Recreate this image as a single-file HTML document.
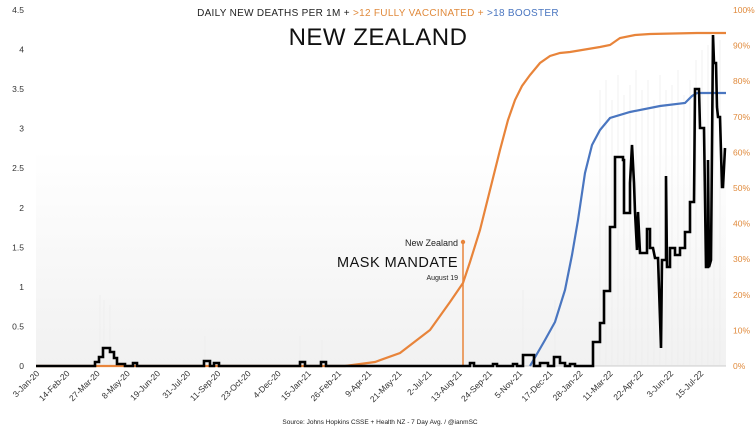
<!DOCTYPE html>
<html><head><style>
html,body{margin:0;padding:0;background:#fff;}
svg{display:block;font-family:"Liberation Sans",sans-serif;}
</style></head><body>
<svg width="756" height="426" viewBox="0 0 756 426">
<defs>
<linearGradient id="bg" x1="0" y1="0" x2="0" y2="1">
<stop offset="0" stop-color="#ffffff"/><stop offset="1" stop-color="#f1f1f1"/>
</linearGradient>
</defs>
<rect x="0" y="0" width="756" height="426" fill="#fff"/>
<rect x="36" y="150" width="690" height="216" fill="url(#bg)"/>
<g stroke="#ececec" stroke-width="0.7">
<line x1="100" y1="366" x2="100" y2="295"/><line x1="104" y1="366" x2="104" y2="300"/><line x1="110" y1="366" x2="110" y2="305"/>
<line x1="205" y1="366" x2="205" y2="336"/><line x1="300" y1="366" x2="300" y2="336"/><line x1="322" y1="366" x2="322" y2="340"/>
<line x1="523" y1="366" x2="523" y2="290"/><line x1="555" y1="366" x2="555" y2="300"/>
<line x1="600" y1="366" x2="600" y2="90"/><line x1="606" y1="366" x2="606" y2="80"/><line x1="612" y1="366" x2="612" y2="100"/>
<line x1="618" y1="366" x2="618" y2="75"/><line x1="624" y1="366" x2="624" y2="95"/><line x1="630" y1="366" x2="630" y2="85"/>
<line x1="636" y1="366" x2="636" y2="70"/><line x1="642" y1="366" x2="642" y2="90"/><line x1="648" y1="366" x2="648" y2="80"/>
<line x1="654" y1="366" x2="654" y2="100"/><line x1="660" y1="366" x2="660" y2="75"/><line x1="666" y1="366" x2="666" y2="90"/>
<line x1="672" y1="366" x2="672" y2="85"/><line x1="678" y1="366" x2="678" y2="70"/><line x1="684" y1="366" x2="684" y2="95"/>
<line x1="690" y1="366" x2="690" y2="80"/><line x1="696" y1="366" x2="696" y2="60"/><line x1="702" y1="366" x2="702" y2="50"/>
<line x1="708" y1="366" x2="708" y2="45"/><line x1="714" y1="366" x2="714" y2="40"/><line x1="720" y1="366" x2="720" y2="40"/>
</g>
<line x1="36" y1="366" x2="726" y2="366" stroke="#ccc" stroke-width="1"/>
<g font-size="8.5" fill="#333" text-anchor="end">
<text x="24" y="369">0</text><text x="24" y="329.4">0.5</text><text x="24" y="289.9">1</text><text x="24" y="250.3">1.5</text><text x="24" y="210.8">2</text><text x="24" y="171.2">2.5</text><text x="24" y="131.7">3</text><text x="24" y="92.1">3.5</text><text x="24" y="52.5">4</text><text x="24" y="13">4.5</text>
</g>
<g font-size="8.5" fill="#e08a3c">
<text x="733" y="369">0%</text><text x="733" y="333.4">10%</text><text x="733" y="297.8">20%</text><text x="733" y="262.2">30%</text><text x="733" y="226.6">40%</text><text x="733" y="191">50%</text><text x="733" y="155.4">60%</text><text x="733" y="119.8">70%</text><text x="733" y="84.2">80%</text><text x="733" y="48.6">90%</text><text x="733" y="13">100%</text>
</g>
<g font-size="8.5" fill="#333" text-anchor="end">
<text transform="translate(40,374) rotate(-45)">3-Jan-20</text>
<text transform="translate(70.2,374) rotate(-45)">14-Feb-20</text>
<text transform="translate(100.4,374) rotate(-45)">27-Mar-20</text>
<text transform="translate(130.5,374) rotate(-45)">8-May-20</text>
<text transform="translate(160.7,374) rotate(-45)">19-Jun-20</text>
<text transform="translate(190.9,374) rotate(-45)">31-Jul-20</text>
<text transform="translate(221.1,374) rotate(-45)">11-Sep-20</text>
<text transform="translate(251.3,374) rotate(-45)">23-Oct-20</text>
<text transform="translate(281.4,374) rotate(-45)">4-Dec-20</text>
<text transform="translate(311.6,374) rotate(-45)">15-Jan-21</text>
<text transform="translate(341.8,374) rotate(-45)">26-Feb-21</text>
<text transform="translate(372,374) rotate(-45)">9-Apr-21</text>
<text transform="translate(402.2,374) rotate(-45)">21-May-21</text>
<text transform="translate(432.3,374) rotate(-45)">2-Jul-21</text>
<text transform="translate(462.5,374) rotate(-45)">13-Aug-21</text>
<text transform="translate(492.7,374) rotate(-45)">24-Sep-21</text>
<text transform="translate(522.9,374) rotate(-45)">5-Nov-21</text>
<text transform="translate(553.1,374) rotate(-45)">17-Dec-21</text>
<text transform="translate(583.2,374) rotate(-45)">28-Jan-22</text>
<text transform="translate(613.4,374) rotate(-45)">11-Mar-22</text>
<text transform="translate(643.6,374) rotate(-45)">22-Apr-22</text>
<text transform="translate(673.8,374) rotate(-45)">3-Jun-22</text>
<text transform="translate(704,374) rotate(-45)">15-Jul-22</text>
</g>
<polyline fill="none" stroke="#e8843a" stroke-width="2.2" points="36,366 345,366 375,362 400,353 430,330 450,302 463,283 470,262 480,230 490,190 500,150 508,120 515,100 522,86 530,75 540,63 550,56 560,53 570,52 600,47 610,45 620,38 635,35 650,34 697,33 726,33"/>
<polyline fill="none" stroke="#4a76c0" stroke-width="2.2" points="530,366 545,340 555,322 565,290 572,255 578,220 585,173 592,145 600,130 610,118 630,112 660,106 685,103 692,96 697,93 726,93"/>
<line x1="463" y1="242" x2="463" y2="366" stroke="#e8843a" stroke-width="1.5"/>
<circle cx="463" cy="242" r="2.2" fill="#e8843a"/>
<text x="458" y="246" font-size="9" fill="#222" text-anchor="end">New Zealand</text>
<text x="458" y="267" font-size="14.5" fill="#111" text-anchor="end" letter-spacing="0.5">MASK MANDATE</text>
<text x="458" y="280" font-size="7" fill="#222" text-anchor="end">August 19</text>
<polyline fill="none" stroke="#000" stroke-width="2.6" points="36,366 95,366 95,362 99,362 99,357 103,357 103,348 110,348 110,352 114,352 114,358 117,358 117,364 125,364 125,366 133,366 133,363 137,363 137,366 204,366 204,361 210,361 210,366 214,366 214,363 219,363 219,366 300,366 300,362 305,362 305,366 321,366 321,362 326,362 326,366 470,366 470,363 474,363 474,366 493,366 493,364 497,364 497,366 513,366 513,364 517,364 517,366 523,366 523,355 534,355 534,366 540,366 540,363 548,363 548,366 554,366 554,357 560,357 560,363 565,363 565,366 570,366 570,364 575,364 575,366 593,366 593,342 600,342 600,323 604,323 604,291 610,291 610,227 615,227 615,157 623,157 623,160 624,160 624,213 630,213 630,183 632,145 634,183 635,212 637,250 638,212 640,253 647,253 647,229 650,229 650,248 653,248 655,258 658,258 661,348 662,260 666,260 666,176 667,267 670,267 670,248 675,248 675,255 680,255 680,248 685,248 685,232 690,232 690,202 694,202 695,89 699,89 700,128 704,128 706,267 708,267 708,160 709,267 711,260 713,35 714,63 716,63 717,107 718,117 720,117 722,187 723,187 725,148"/>
<text x="378" y="16" font-size="10" text-anchor="middle" fill="#222" letter-spacing="0.3">DAILY NEW DEATHS PER 1M + <tspan fill="#e08a3c">&gt;12 FULLY VACCINATED +</tspan> <tspan fill="#4a76c0">&gt;18 BOOSTER</tspan></text>
<text x="378" y="45" font-size="24" text-anchor="middle" fill="#111" letter-spacing="0.5">NEW ZEALAND</text>
<text x="380" y="424" font-size="6.5" text-anchor="middle" fill="#222">Source: Johns Hopkins CSSE + Health NZ - 7 Day Avg. / @ianmSC</text>
</svg>
</body></html>
